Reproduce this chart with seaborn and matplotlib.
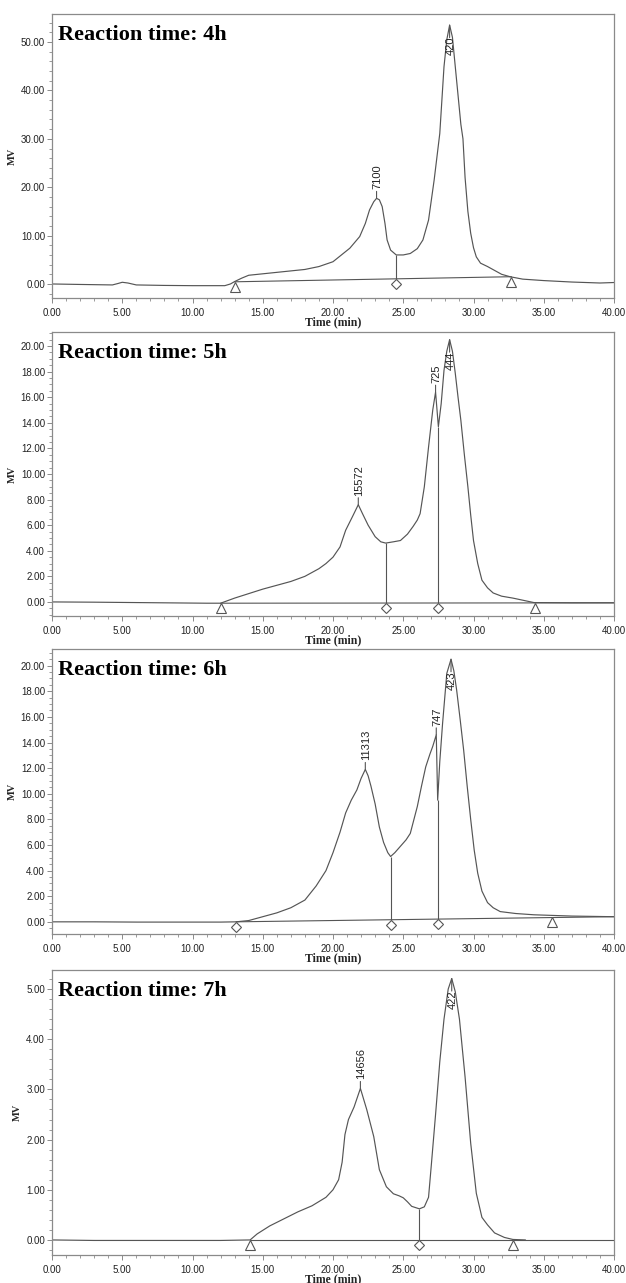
import numpy as np
import pandas as pd
import matplotlib
matplotlib.use("Agg")
import matplotlib.pyplot as plt
import seaborn as sns
from matplotlib.ticker import MultipleLocator, FormatStrFormatter
from matplotlib.transforms import offset_copy

# ---------------- data ----------------
titles = ["Reaction time: 4h", "Reaction time: 5h", "Reaction time: 6h", "Reaction time: 7h"]

# 4 h
t_4h = [0, 2, 4.3, 4.7, 5.0, 5.4, 6.0, 8, 10, 12.3, 12.7, 13.0, 13.5, 14.0, 15, 16, 17, 18, 19,
        20.0, 21.2, 21.9, 22.3, 22.6, 22.9, 23.1, 23.3, 23.5, 23.7, 23.85, 24.1, 24.5, 25.0, 25.5,
        26.0, 26.4, 26.8, 27.2, 27.6, 27.9, 28.1, 28.3, 28.5, 28.7, 28.9, 29.1, 29.25, 29.4, 29.6,
        29.8, 30.0, 30.2, 30.5, 31.0, 31.5, 32.0, 32.6, 33.5, 35, 37, 39, 40]
mv_4h = [0.0, -0.1, -0.2, 0.1, 0.35, 0.2, -0.2, -0.3, -0.35, -0.35, 0.0, 0.5, 1.2, 1.8, 2.1, 2.4,
         2.7, 3.0, 3.6, 4.6, 7.4, 9.8, 12.5, 15.3, 17.0, 17.7, 17.4, 16.0, 12.5, 9.1, 7.0, 6.0, 6.0,
         6.3, 7.3, 9.1, 13.2, 21.5, 31.1, 44.9, 50.5, 53.5, 51.0, 45.0, 39.0, 33.0, 30.0, 22.0, 15.0,
         10.5, 7.5, 5.6, 4.3, 3.6, 2.8, 2.0, 1.5, 1.0, 0.7, 0.4, 0.2, 0.3]
base_t_4h = [13.0, 32.7]
base_mv_4h = [0.45, 1.5]
tri_4h = [13.0, 32.7]
dia_4h = [24.5]
drop_4h = [24.5]
peak_t_4h = [23.1, 28.3]
peak_lab_4h = ["7100", "420"]

# 5 h
t_5h = [0, 3, 6, 9, 11, 12.0, 13, 14, 15, 16, 17, 18, 19, 19.5, 20.0, 20.5, 20.9, 21.4, 21.8,
        22.1, 22.5, 23.0, 23.4, 23.75, 24.3, 24.8, 25.3, 25.7, 26.0, 26.2, 26.5, 26.8, 27.1, 27.3,
        27.5, 27.7, 27.9, 28.1, 28.3, 28.5, 28.7, 28.9, 29.1, 29.35, 29.6, 29.8, 30.0, 30.3, 30.6,
        31.0, 31.4, 32.0, 32.8, 34.3, 37, 40]
mv_5h = [0.0, -0.02, -0.05, -0.08, -0.1, -0.1, 0.3, 0.65, 1.0, 1.3, 1.6, 2.0, 2.6, 3.0, 3.5, 4.3,
         5.6, 6.7, 7.6, 6.9, 6.0, 5.1, 4.7, 4.6, 4.7, 4.8, 5.3, 5.9, 6.4, 6.9, 9.0, 12.1, 15.0, 16.4,
         13.7, 15.5, 18.1, 19.6, 20.5, 19.6, 17.9, 16.0, 14.2, 11.5, 9.0, 6.8, 4.8, 3.0, 1.7, 1.1, 0.7,
         0.45, 0.3, -0.05, -0.07, -0.07]
base_t_5h = [12.0, 40.0]
base_mv_5h = [-0.1, -0.07]
tri_5h = [12.0, 34.4]
dia_5h = [23.75, 27.5]
drop_5h = [23.75, 27.5]
peak_t_5h = [21.8, 27.3, 28.3]
peak_lab_5h = ["15572", "725", "444"]

# 6 h
t_6h = [0, 3, 6, 9, 12, 13.1, 14, 15, 16, 17, 18, 18.8, 19.5, 20.0, 20.5, 20.9, 21.3, 21.7, 22.0,
        22.3, 22.5, 22.7, 23.0, 23.3, 23.6, 23.9, 24.1, 24.4, 24.8, 25.2, 25.5, 26.0, 26.3, 26.6,
        26.9, 27.1, 27.35, 27.45, 27.6, 27.8, 28.1, 28.4, 28.6, 28.8, 29.05, 29.3, 29.55, 29.8,
        30.05, 30.3, 30.6, 31.0, 31.4, 31.9, 33, 34.3, 37, 40]
mv_6h = [0.0, 0.0, -0.02, -0.02, -0.02, 0.0, 0.1, 0.4, 0.7, 1.1, 1.7, 2.8, 4.0, 5.4, 7.0, 8.5,
         9.5, 10.3, 11.2, 11.9, 11.4, 10.6, 9.2, 7.4, 6.2, 5.4, 5.1, 5.4, 5.9, 6.4, 6.9, 9.0, 10.6,
         12.1, 13.1, 13.7, 14.6, 9.5, 12.5, 15.5, 19.4, 20.5, 19.6, 18.1, 15.8, 13.4, 10.6, 8.0,
         5.6, 3.8, 2.4, 1.5, 1.1, 0.8, 0.65, 0.55, 0.45, 0.4]
base_t_6h = [13.1, 40.0]
base_mv_6h = [0.0, 0.4]
tri_6h = [35.6]
dia_6h = [13.1, 24.1, 27.45]
drop_6h = [24.1, 27.45]
peak_t_6h = [22.3, 27.35, 28.4]
peak_lab_6h = ["11313", "747", "423"]

# 7 h
t_7h = [0, 3, 6, 9, 12, 14.1, 14.6, 15.5, 16.5, 17.5, 18.5, 19.5, 20.0, 20.4, 20.65, 20.85, 21.1,
        21.5, 21.95, 22.4, 22.9, 23.3, 23.8, 24.3, 24.7, 25.0, 25.3, 25.6, 26.15, 26.5, 26.8, 27.0,
        27.3, 27.6, 27.9, 28.2, 28.45, 28.7, 29.0, 29.4, 29.8, 30.2, 30.6, 31.0, 31.5, 32.2, 32.8,
        33.7]
mv_7h = [0.0, -0.01, -0.01, -0.01, -0.01, 0.0, 0.12, 0.28, 0.42, 0.56, 0.68, 0.85, 1.0, 1.2,
         1.55, 2.1, 2.4, 2.65, 3.02, 2.6, 2.06, 1.4, 1.06, 0.92, 0.88, 0.84, 0.76, 0.67, 0.62,
         0.66, 0.85, 1.5, 2.5, 3.55, 4.4, 5.0, 5.21, 4.95, 4.4, 3.25, 1.93, 0.93, 0.45, 0.3, 0.14,
         0.05, 0.01, 0.0]
base_t_7h = [14.1, 40.0]
base_mv_7h = [0.0, 0.0]
tri_7h = [14.1, 32.8]
dia_7h = [26.15]
drop_7h = [26.15]
peak_t_7h = [21.95, 28.45]
peak_lab_7h = ["14656", "422"]

# axis ranges and tick steps (mV)
y_lo = [-2.9, -1.1, -0.95, -0.3]
y_hi = [55.8, 21.1, 21.3, 5.38]
y_major = [10, 2, 2, 1]
y_minor = [2, 0.5, 0.5, 0.2]
x_ticks_major = 5
x_ticks_minor = 1

# ---------------- assemble ----------------
panels = [
    (t_4h, mv_4h, base_t_4h, base_mv_4h, tri_4h, dia_4h, drop_4h, peak_t_4h, peak_lab_4h),
    (t_5h, mv_5h, base_t_5h, base_mv_5h, tri_5h, dia_5h, drop_5h, peak_t_5h, peak_lab_5h),
    (t_6h, mv_6h, base_t_6h, base_mv_6h, tri_6h, dia_6h, drop_6h, peak_t_6h, peak_lab_6h),
    (t_7h, mv_7h, base_t_7h, base_mv_7h, tri_7h, dia_7h, drop_7h, peak_t_7h, peak_lab_7h),
]

sns.set_theme(style="ticks")
plt.rcParams['font.family'] = ['Liberation Sans', 'DejaVu Sans']

LINE = "#555555"
SPINE = "#8a8a8a"
SERIF = ['Liberation Serif', 'DejaVu Serif']

fig = plt.figure(figsize=(6.26, 12.83), dpi=100)
W, H = 626.0, 1283.0
boxes = [(14, 298), (332, 616), (649, 934), (970, 1255)]
left_px, right_px = 52, 614

for i, (t, mv, bt, bv, tri, dia, drops, pk_t, pk_lab) in enumerate(panels):
    top, bot = boxes[i]
    ax = fig.add_axes([left_px / W, 1 - bot / H, (right_px - left_px) / W, (bot - top) / H])
    df = pd.DataFrame({"Time (min)": t, "MV": mv})
    sns.lineplot(data=df, x="Time (min)", y="MV", ax=ax, color=LINE, lw=0.85,
                 estimator=None, sort=False)
    bdf = pd.DataFrame({"t": bt, "v": bv})
    sns.lineplot(data=bdf, x="t", y="v", ax=ax, color=LINE, lw=0.8, estimator=None, sort=False)

    ax.set_xlim(0, 40)
    ax.set_ylim(y_lo[i], y_hi[i])

    # drop lines
    for d in drops:
        b = np.interp(d, bt, bv)
        c = np.interp(d, t, mv)
        ax.vlines(d, b, c, color=LINE, lw=0.8)

    # markers slightly below baseline points
    mtr = offset_copy(ax.transData, fig=fig, y=-3.5, units='points')
    if tri:
        ax.plot(tri, np.interp(tri, bt, bv), linestyle='none', marker='^', ms=6.5,
                mfc='white', mec=LINE, mew=0.8, transform=mtr, clip_on=False, zorder=5)
    if dia:
        ax.plot(dia, np.interp(dia, bt, bv), linestyle='none', marker='D', ms=4.8,
                mfc='white', mec=LINE, mew=0.8, transform=mtr, clip_on=False, zorder=5)

    # peak labels
    yr = y_hi[i] - y_lo[i]
    for p, lab in zip(pk_t, pk_lab):
        pv = np.interp(p, t, mv)
        frac = (pv - y_lo[i]) / yr
        if frac > 0.85:
            ax.annotate('', xy=(p, pv), xytext=(0, -9), textcoords='offset points',
                        arrowprops=dict(arrowstyle='-', color=LINE, lw=0.8, shrinkA=0, shrinkB=0))
            ax.annotate(lab, xy=(p, pv), xytext=(0.5, -8.5), textcoords='offset points',
                        rotation=90, ha='center', va='top', fontsize=8, color='#222222')
        else:
            ax.annotate('', xy=(p, pv), xytext=(0, 5), textcoords='offset points',
                        arrowprops=dict(arrowstyle='-', color=LINE, lw=0.8, shrinkA=0, shrinkB=0))
            ax.annotate(lab, xy=(p, pv), xytext=(0.5, 6.5), textcoords='offset points',
                        rotation=90, ha='center', va='bottom', fontsize=8, color='#222222')

    # title
    ax.annotate(titles[i], xy=(0, 1), xycoords='axes fraction', xytext=(4.5, -18.5),
                textcoords='offset points', ha='left', va='baseline', fontsize=16,
                fontweight='bold', family=SERIF, color='black')

    # axes styling
    ax.xaxis.set_major_locator(MultipleLocator(x_ticks_major))
    ax.xaxis.set_minor_locator(MultipleLocator(x_ticks_minor))
    ax.yaxis.set_major_locator(MultipleLocator(y_major[i]))
    ax.yaxis.set_minor_locator(MultipleLocator(y_minor[i]))
    ax.xaxis.set_major_formatter(FormatStrFormatter('%.2f'))
    ax.yaxis.set_major_formatter(FormatStrFormatter('%.2f'))
    ax.tick_params(axis='both', which='major', direction='out', length=3.5, width=0.7,
                   color=SPINE, labelsize=7, labelcolor='#222222', pad=1.5)
    ax.tick_params(axis='x', which='major', pad=3.5)
    ax.tick_params(axis='both', which='minor', direction='out', length=2, width=0.6, color=SPINE)
    for s in ax.spines.values():
        s.set_visible(True)
        s.set_color(SPINE)
        s.set_linewidth(0.9)
    ax.set_xlabel("Time (min)", family=SERIF, fontweight='bold', fontsize=8.5, labelpad=-1)
    ax.set_ylabel("MV", family=SERIF, fontweight='bold', fontsize=7.5, labelpad=3)
    ax.grid(False)

fig.savefig("out.png", dpi=100, facecolor='white')
